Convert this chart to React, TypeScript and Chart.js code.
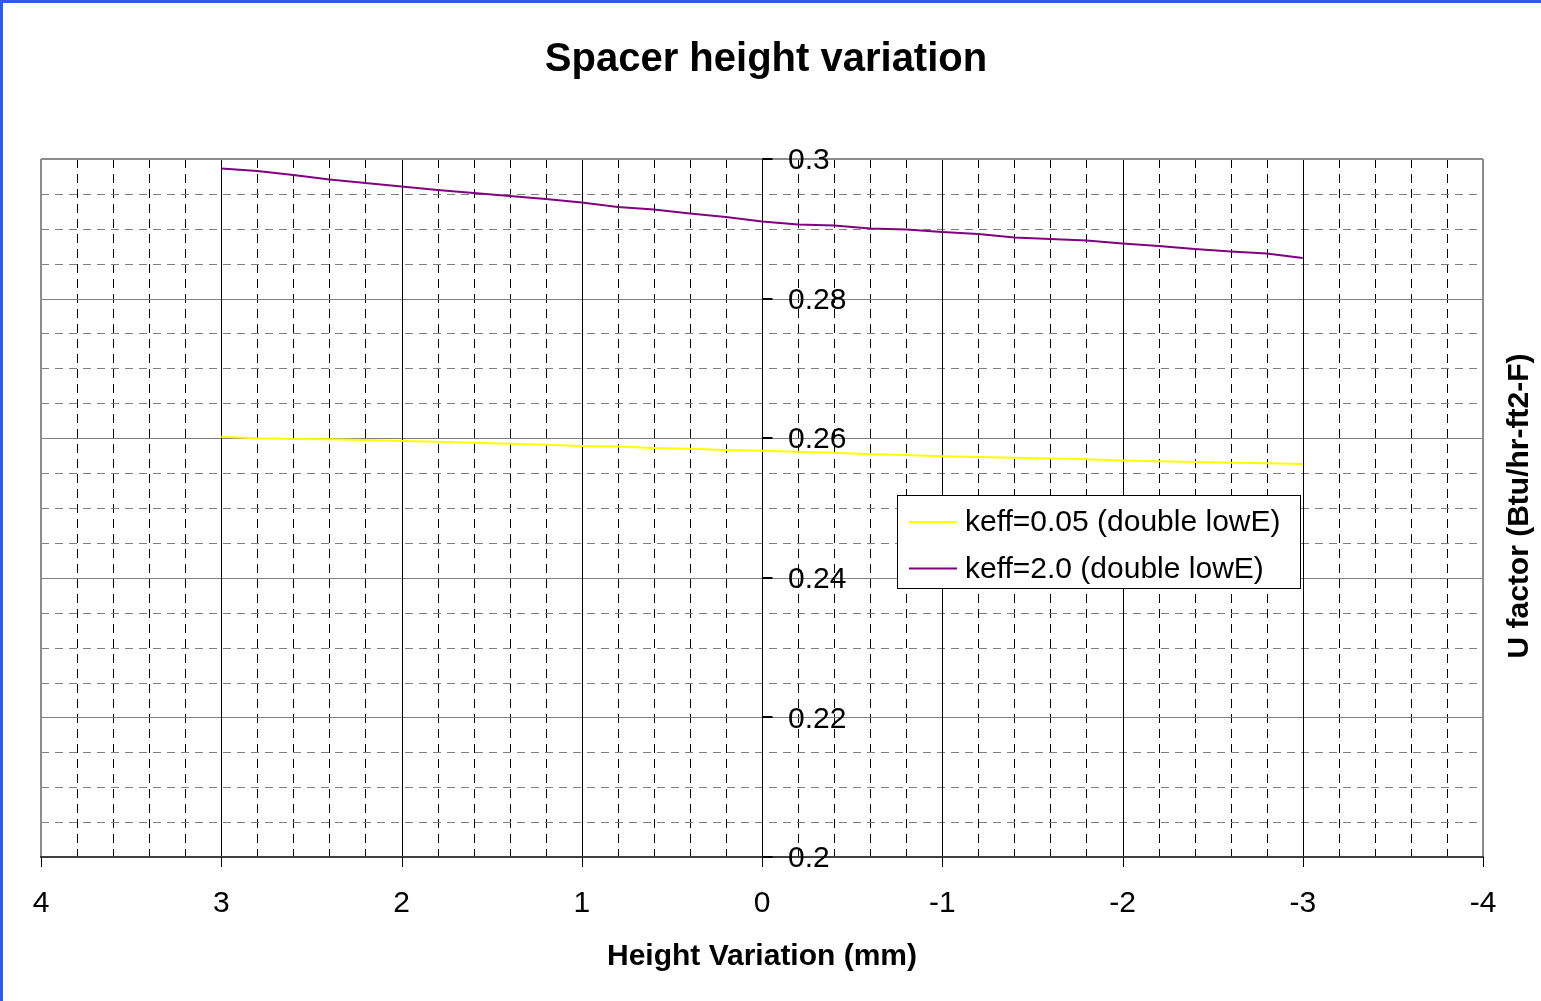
import React, { useEffect, useRef } from "react";
import { Chart, registerables } from "chart.js";

Chart.register(...registerables);

// ---- Data ----
const xValues = [3, 2.8, 2.6, 2.4, 2.2, 2, 1.8, 1.6, 1.4, 1.2, 1, 0.8, 0.6, 0.4, 0.2, 0, -0.2, -0.4, -0.6, -0.8, -1, -1.2, -1.4, -1.6, -1.8, -2, -2.2, -2.4, -2.6, -2.8, -3];
const yellowValues = [0.2602, 0.25998, 0.2599, 0.25985, 0.25975, 0.2596, 0.2595, 0.25935, 0.2592, 0.25905, 0.2589, 0.2588, 0.2586, 0.2585, 0.2583, 0.2582, 0.25805, 0.2579, 0.2577, 0.2576, 0.2574, 0.2573, 0.2572, 0.2571, 0.257, 0.2568, 0.2567, 0.2566, 0.2565, 0.2564, 0.2563];
const purpleValues = [0.29864, 0.29828, 0.29771, 0.29706, 0.29656, 0.29606, 0.29556, 0.29513, 0.2947, 0.29427, 0.29377, 0.29312, 0.29277, 0.29219, 0.29169, 0.29105, 0.29062, 0.29047, 0.29004, 0.2899, 0.28954, 0.28926, 0.28875, 0.28854, 0.28832, 0.28789, 0.28754, 0.28711, 0.28675, 0.28646, 0.28582];
const seriesLabels = ["keff=0.05 (double lowE)", "keff=2.0 (double lowE)"];
const seriesColors = ["#FFFF00", "#800080"];
const chartTitle = "Spacer height variation";
const xTitle = "Height Variation (mm)";
const yTitle = "U factor (Btu/hr-ft2-F)";
const xMin = -4;
const xMax = 4;
const yMin = 0.2;
const yMax = 0.3;
const xMajorStep = 1;
const xMinorStep = 0.2;
const yMajorStep = 0.02;
const yMinorStep = 0.005;

const FONT = '"Liberation Sans", Arial, Helvetica, sans-serif';

const isMultiple = (v: number, step: number) => Math.abs(v / step - Math.round(v / step)) < 1e-6;
const fmt = (v: number) => {
  const s = parseFloat(v.toFixed(4)).toString();
  return s === "-0" ? "0" : s;
};

function line(ctx: CanvasRenderingContext2D, x1: number, y1: number, x2: number, y2: number) {
  ctx.beginPath();
  ctx.moveTo(x1, y1);
  ctx.lineTo(x2, y2);
  ctx.stroke();
}

const excelPlugin = {
  id: "excelLook",
  beforeDatasetsDraw(chart: any) {
    const { ctx, chartArea: a, scales } = chart;
    const xs = scales.x;
    const ys = scales.y;
    const top = Math.round(a.top);
    const bottom = Math.round(a.bottom);
    const left = Math.round(a.left);
    const right = Math.round(a.right);
    ctx.save();
    ctx.lineWidth = 1;

    // minor vertical dashed (black)
    ctx.strokeStyle = "#000000";
    ctx.setLineDash([9, 6]);
    xs.ticks.forEach((t: any) => {
      if (isMultiple(t.value, xMajorStep)) return;
      const px = Math.round(xs.getPixelForValue(t.value)) + 0.5;
      line(ctx, px, top, px, bottom);
    });
    // minor horizontal dashed (grey)
    ctx.strokeStyle = "#808080";
    ctx.setLineDash([8, 6]);
    ys.ticks.forEach((t: any) => {
      if (isMultiple(t.value - yMin, yMajorStep)) return;
      const py = Math.round(ys.getPixelForValue(t.value)) + 0.5;
      line(ctx, left, py, right, py);
    });
    ctx.setLineDash([]);
    // major horizontal solid (grey)
    ctx.strokeStyle = "#808080";
    ys.ticks.forEach((t: any) => {
      if (!isMultiple(t.value - yMin, yMajorStep)) return;
      const py = Math.round(ys.getPixelForValue(t.value)) + 0.5;
      line(ctx, left, py, right, py);
    });
    // major vertical solid (black)
    ctx.strokeStyle = "#000000";
    xs.ticks.forEach((t: any) => {
      if (!isMultiple(t.value, xMajorStep)) return;
      if (Math.abs(t.value - xMin) < 1e-6 || Math.abs(t.value - xMax) < 1e-6) return;
      const px = Math.round(xs.getPixelForValue(t.value)) + 0.5;
      line(ctx, px, top, px, bottom);
    });

    // plot border (grey) top, left, right
    ctx.strokeStyle = "#8C8C8C";
    ctx.lineWidth = 2;
    line(ctx, left, top, right, top);
    line(ctx, left, top, left, bottom);
    line(ctx, right, top, right, bottom);

    // x axis line (bottom)
    ctx.strokeStyle = "#404040";
    ctx.lineWidth = 2;
    line(ctx, left - 1, bottom, right + 1, bottom);

    // x axis tick marks (below)
    ctx.strokeStyle = "#000000";
    ctx.lineWidth = 1;
    xs.ticks.forEach((t: any) => {
      if (!isMultiple(t.value, xMajorStep)) return;
      const px = Math.round(xs.getPixelForValue(t.value)) + 0.5;
      line(ctx, px, bottom, px, bottom + 10);
    });

    // y axis at x = 0 with tick marks to the right
    const ax = Math.round(xs.getPixelForValue(0)) + 0.5;
    line(ctx, ax, top, ax, bottom + 10);
    ctx.lineWidth = 2;
    ys.ticks.forEach((t: any) => {
      if (!isMultiple(t.value - yMin, yMajorStep)) return;
      const py = Math.round(ys.getPixelForValue(t.value));
      line(ctx, ax, py, ax + 10, py);
    });
    ctx.restore();
  },
  afterDatasetsDraw(chart: any) {
    const { ctx, chartArea: a, scales } = chart;
    const xs = scales.x;
    const ys = scales.y;
    ctx.save();
    ctx.fillStyle = "#000000";

    // y tick labels next to the crossing axis
    const ax = xs.getPixelForValue(0);
    ctx.font = `30px ${FONT}`;
    ctx.textAlign = "left";
    ctx.textBaseline = "middle";
    ys.ticks.forEach((t: any) => {
      if (!isMultiple(t.value - yMin, yMajorStep)) return;
      ctx.fillText(fmt(t.value), ax + 26, ys.getPixelForValue(t.value) + 2);
    });

    // x tick labels
    ctx.textAlign = "center";
    xs.ticks.forEach((t: any) => {
      if (!isMultiple(t.value, xMajorStep)) return;
      ctx.fillText(fmt(Math.round(t.value)), xs.getPixelForValue(t.value), a.bottom + 47);
    });

    // titles
    ctx.font = `bold 40px ${FONT}`;
    ctx.fillText(chartTitle, 766, 60);
    ctx.font = `bold 30px ${FONT}`;
    ctx.fillText(xTitle, 762, 957);
    ctx.save();
    ctx.translate(1520, 506);
    ctx.rotate(-Math.PI / 2);
    ctx.fillText(yTitle, 0, 0);
    ctx.restore();

    // legend
    const lx = 897.5, ly = 495.5, lw = 403, lh = 93;
    ctx.fillStyle = "#FFFFFF";
    ctx.fillRect(lx, ly, lw, lh);
    ctx.strokeStyle = "#000000";
    ctx.lineWidth = 1;
    ctx.strokeRect(lx, ly, lw, lh);
    ctx.font = `30px ${FONT}`;
    ctx.textAlign = "left";
    ctx.textBaseline = "middle";
    chart.data.datasets.forEach((ds: any, i: number) => {
      const yy = 522 + i * 46.5;
      ctx.strokeStyle = ds.borderColor;
      ctx.lineWidth = 2;
      line(ctx, 909, yy, 957, yy);
      ctx.fillStyle = "#000000";
      ctx.fillText(ds.label, 965, yy + 1);
    });
    ctx.restore();
  },
};

export default function App() {
  const canvasRef = useRef<HTMLCanvasElement | null>(null);

  useEffect(() => {
    const canvas = canvasRef.current;
    if (!canvas) return;
    const chart = new Chart(canvas, {
      type: "line",
      data: {
        datasets: [
          {
            label: seriesLabels[0],
            data: xValues.map((x, i) => ({ x, y: yellowValues[i] })),
            borderColor: seriesColors[0],
            backgroundColor: seriesColors[0],
            borderWidth: 2,
            pointRadius: 0,
            tension: 0,
            fill: false,
          },
          {
            label: seriesLabels[1],
            data: xValues.map((x, i) => ({ x, y: purpleValues[i] })),
            borderColor: seriesColors[1],
            backgroundColor: seriesColors[1],
            borderWidth: 2,
            pointRadius: 0,
            tension: 0,
            fill: false,
          },
        ],
      },
      options: {
        responsive: false,
        animation: false,
        devicePixelRatio: 1,
        layout: { padding: { left: 41, right: 58, top: 159, bottom: 144 } },
        plugins: {
          legend: { display: false },
          tooltip: { enabled: false },
          title: { display: false },
        },
        scales: {
          x: {
            type: "linear",
            display: false,
            min: xMin,
            max: xMax,
            reverse: true,
            ticks: { stepSize: xMinorStep },
          },
          y: {
            type: "linear",
            display: false,
            min: yMin,
            max: yMax,
            ticks: { stepSize: yMinorStep },
          },
        },
      },
      plugins: [excelPlugin],
    } as any);
    return () => chart.destroy();
  }, []);

  return (
    <div style={{ position: "fixed", left: 0, top: 0, width: 1541, height: 1001, background: "#FFFFFF" }}>
      <canvas ref={canvasRef} width={1541} height={1001} style={{ display: "block" }} />
      <div
        style={{
          position: "absolute",
          left: 0,
          top: 0,
          width: 1541,
          height: 1001,
          boxSizing: "border-box",
          borderLeft: "3px solid #2D5CE6",
          borderTop: "3px solid #2D5CE6",
          pointerEvents: "none",
        }}
      />
    </div>
  );
}
